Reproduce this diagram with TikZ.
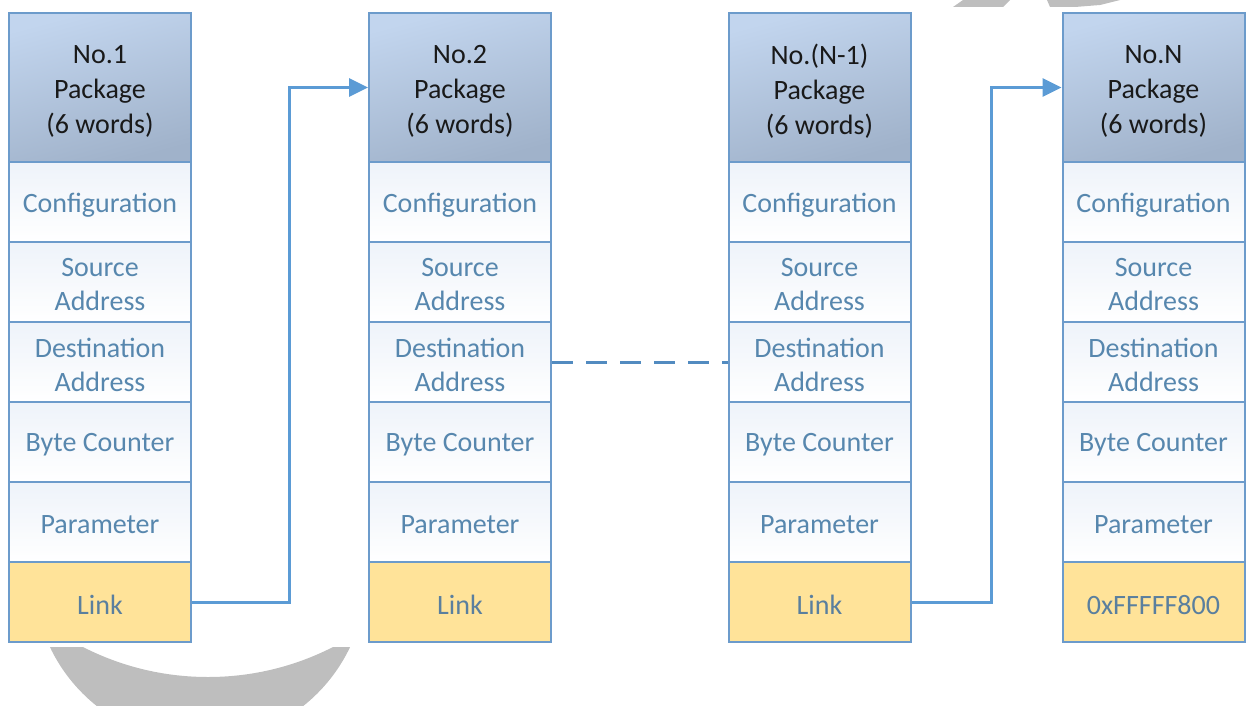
\documentclass[tikz,border=0pt]{standalone}
\usepackage{fontspec}
\setmainfont{Carlito}
\usetikzlibrary{arrows.meta}
\definecolor{bord}{HTML}{6C9BCB}
\definecolor{hdrtop}{HTML}{C2D5EE}
\definecolor{hdrbot}{HTML}{A0B2CA}
\definecolor{rowtop}{HTML}{EEF3FA}
\definecolor{rowtxt}{HTML}{5787AE}
\definecolor{linkfill}{HTML}{FFE399}
\definecolor{linktxt}{HTML}{5A7F9E}
\definecolor{conncol}{HTML}{5B9BD5}
\definecolor{wm}{HTML}{BEBEBE}
\begin{document}
\begin{tikzpicture}[x=1pt,y=-1pt,
  cell/.style={draw=bord, line width=2pt, minimum width=182pt, minimum height=80pt,
    inner sep=0pt},
  hdr/.style={cell, minimum height=149pt, top color=hdrtop, bottom color=hdrbot, shading angle=15},
  rowcell/.style={cell, top color=rowtop, bottom color=white},
  linkcell/.style={cell, fill=linkfill},
  txt/.style={inner sep=0pt, align=center, font=\fontsize{28}{34}\selectfont},
  hdrtxt/.style={txt, text=black!90, font=\fontsize{28}{35}\selectfont},
  rowtext/.style={txt, text=rowtxt},
  linktext/.style={txt, text=linktxt},
  conn/.style={draw=conncol, line width=3pt, -{Triangle[length=19pt,width=18pt]}},
  dashconn/.style={draw=conncol!90!black, line width=3pt, dash pattern=on 21pt off 13pt}]
\useasboundingbox (0,0) rectangle (1249,706);
% watermark
\begin{scope}
  \clip (0,647) rectangle (1249,706);
  \fill[wm, even odd rule] (200,576) circle[radius=166pt] (208,402) circle[radius=275pt];
\end{scope}
\fill[wm] (963,0) -- (1010,0) -- (1003,7) -- (953,7) -- cycle;
\fill[wm] (1047,0) -- (1120,0) -- (1100,5) -- (1075,7) -- (1050,7) -- cycle;
% columns
\foreach \i/\x/\t/\lk in {1/100/{No.1}/Link, 2/460/{No.2}/Link, 3/819.5/{No.(N-1)}/Link, 4/1153.5/{No.N}/0xFFFFF800}{
  \node[hdr] (h\i) at (\x,87.5) {};
  \node[rowcell] (c\i) at (\x,202) {};
  \node[rowcell] (s\i) at (\x,282) {};
  \node[rowcell] (d\i) at (\x,362) {};
  \node[rowcell] (b\i) at (\x,442) {};
  \node[rowcell] (p\i) at (\x,522) {};
  \node[linkcell] (l\i) at (\x,602) {};
  \node[hdrtxt] (ht\i) at ([yshift=-4pt]h\i.center) {\t\\Package\\(6 words)};
  \node[rowtext] (ct\i) at ([yshift=-3pt]c\i.center) {Configuration};
  \node[rowtext] (st\i) at ([yshift=-3pt]s\i.center) {Source\\Address};
  \node[rowtext] (dt\i) at ([yshift=-3pt]d\i.center) {Destination\\Address};
  \node[rowtext] (bt\i) at ([yshift=-3pt]b\i.center) {Byte Counter};
  \node[rowtext] (pt\i) at ([yshift=-3pt]p\i.center) {Parameter};
  \node[linktext] (lt\i) at ([yshift=-3pt]l\i.center) {\lk};
}
\coordinate (v1) at (289,0);
\coordinate (v2) at (991,0);
\draw[conn] (l1.east) -- (l1.east -| v1) |- (h2.west);
\draw[conn] (l3.east) -- (l3.east -| v2) |- (h4.west);
\draw[dashconn] (d2.east) -- (d3.west);
\end{tikzpicture}
\end{document}
